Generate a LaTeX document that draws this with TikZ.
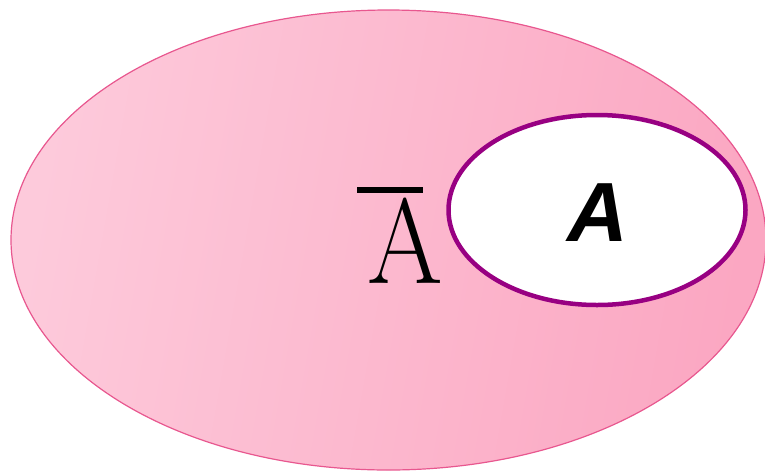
\documentclass[tikz,border=0pt]{standalone}
\usepackage{fontspec}
\newfontfamily\labelsans{Liberation Sans}
\usepackage{xcolor}
\usepackage{graphicx}
\usetikzlibrary{shapes.geometric}
\definecolor{pinklight}{HTML}{FDCADB}
\definecolor{pinkdark}{HTML}{FBA7C2}
\definecolor{pinkedge}{HTML}{E8578F}
\definecolor{setpurple}{HTML}{980082}
\newcommand{\compbar}{\rlap{\kern-10pt\raisebox{90pt}{\rule{66pt}{6pt}}}}
\tikzset{
  universe/.style={ellipse,draw=pinkedge,line width=1.2pt,
                   left color=pinklight,right color=pinkdark,shading angle=80,
                   minimum width=755pt,minimum height=460pt,inner sep=0pt},
  setA/.style={ellipse,draw=setpurple,fill=white,line width=4.5pt,
               minimum width=297pt,minimum height=190pt,inner sep=0pt},
  complabel/.style={font=\fontsize{121}{121}\selectfont,inner sep=0pt},
  setlabel/.style={font=\labelsans\bfseries\itshape\fontsize{84}{84}\selectfont,
                   inner sep=0pt}
}
\begin{document}
\begin{tikzpicture}[x=1pt,y=-1pt]
  \path[use as bounding box] (0,0) rectangle (765,472);
  \node[universe] (omega) at (388.5,240) {};
  \node[setA] (a) at (597,210) {};
  \node[setlabel] (alabel) at (598,213) {A};
  \node[complabel,anchor=base west] (abar) at (367,283)
    {\compbar\scalebox{0.9}[1]{A}};
\end{tikzpicture}
\end{document}
